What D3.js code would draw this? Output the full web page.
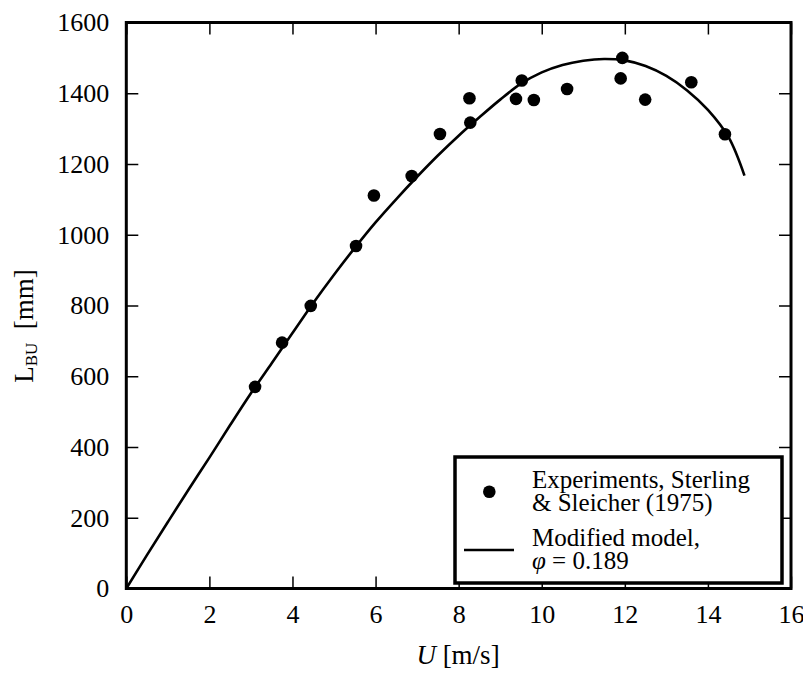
<!DOCTYPE html>
<html>
<head>
    <meta charset="utf-8">
    <script src="https://cdn.jsdelivr.net/npm/d3@7"></script>
</head>
<body style="margin:0">
    <script>
        // experiments, Sterling & Sleicher (1975)
        var expU = [3.10, 3.75, 4.44, 5.53, 5.96, 6.87, 7.55, 8.26, 8.28, 9.38, 9.52, 9.81, 10.61, 11.90, 11.94, 12.49, 13.60, 14.41];
        var expL = [570, 695, 799, 968, 1111, 1166, 1285, 1386, 1317, 1384, 1436, 1381, 1412, 1442, 1500, 1382, 1431, 1284];

        // modified model curve
        var modelU = [0, 0.5, 1, 1.5, 2, 2.5, 3, 3.5, 4, 4.5, 5, 5.5, 6, 6.5, 7, 7.5, 8, 8.5, 9, 9.5, 10, 10.5, 11, 11.5, 12, 12.5, 13, 13.5, 14, 14.5, 14.88];
        var modelL = [0, 95, 188, 280, 370, 462, 552, 637, 722, 807, 887, 963, 1035, 1101, 1164, 1224, 1280, 1332, 1382, 1427, 1459, 1480, 1492, 1497, 1493, 1477, 1449, 1408, 1353, 1275, 1167];

        var xTicks = [0, 2, 4, 6, 8, 10, 12, 14, 16];
        var yTicks = [0, 200, 400, 600, 800, 1000, 1200, 1400, 1600];

        var width = 803, height = 673;
        var margin = { left: 126.3, right: 12, top: 22.5, bottom: 84.5 };
        var font = "'Liberation Serif'";
        var fs = "26px";

        var svg = d3.select("body").append("svg")
            .attr("width", width)
            .attr("height", height)
            .style("font-family", font);

        var x = d3.scaleLinear().domain([0, 16]).range([margin.left, width - margin.right]);
        var y = d3.scaleLinear().domain([0, 1600]).range([height - margin.bottom, margin.top]);

        // axes, ticks pointing inward on all four sides
        var gx = svg.append("g")
            .attr("transform", "translate(0," + y(0) + ")")
            .call(d3.axisBottom(x).tickValues(xTicks).tickSize(-12).tickPadding(16).tickFormat(d3.format("d")));
        var gxt = svg.append("g")
            .attr("transform", "translate(0," + y(1600) + ")")
            .call(d3.axisTop(x).tickValues(xTicks).tickSize(-12).tickFormat(""));
        var gy = svg.append("g")
            .attr("transform", "translate(" + x(0) + ",0)")
            .call(d3.axisLeft(y).tickValues(yTicks).tickSize(-12).tickPadding(17).tickFormat(d3.format("d")));
        var gyr = svg.append("g")
            .attr("transform", "translate(" + x(16) + ",0)")
            .call(d3.axisRight(y).tickValues(yTicks).tickSize(-12).tickFormat(""));

        [gx, gxt, gy, gyr].forEach(function (g) {
            g.attr("font-family", null).attr("font-size", null);
            g.select(".domain").remove();
            g.selectAll(".tick line").attr("stroke", "#000").attr("stroke-width", 1.5);
            g.selectAll(".tick text")
                .style("font-family", font)
                .style("font-size", fs)
                .attr("fill", "#000");
        });

        // model line
        var line = d3.line()
            .x(function (d, i) { return x(modelU[i]); })
            .y(function (d, i) { return y(modelL[i]); })
            .curve(d3.curveCatmullRom);

        svg.append("path")
            .datum(modelU)
            .attr("d", line)
            .attr("fill", "none")
            .attr("stroke", "#000")
            .attr("stroke-width", 2.6);

        // experiments
        svg.selectAll(".dot")
            .data(expU)
            .enter().append("circle")
            .attr("class", "dot")
            .attr("cx", function (d) { return x(d); })
            .attr("cy", function (d, i) { return y(expL[i]); })
            .attr("r", 6.3)
            .attr("fill", "#000");

        // frame
        svg.append("rect")
            .attr("x", x(0))
            .attr("y", y(1600))
            .attr("width", x(16) - x(0))
            .attr("height", y(0) - y(1600))
            .attr("fill", "none")
            .attr("stroke", "#000")
            .attr("stroke-width", 3);

        // legend
        var lg = svg.append("g");
        lg.append("rect")
            .attr("x", 455).attr("y", 457)
            .attr("width", 327).attr("height", 126)
            .attr("fill", "#fff")
            .attr("stroke", "#000")
            .attr("stroke-width", 3.5);
        lg.append("circle").attr("cx", 489.3).attr("cy", 491.7).attr("r", 6.3).attr("fill", "#000");
        lg.append("line")
            .attr("x1", 464).attr("x2", 514)
            .attr("y1", 550).attr("y2", 550)
            .attr("stroke", "#000").attr("stroke-width", 2.6);

        var legendLines = [
            { t: "Experiments, Sterling", y: 488 },
            { t: "& Sleicher (1975)", y: 511 },
            { t: "Modified model,", y: 546 }
        ];
        legendLines.forEach(function (l) {
            lg.append("text").attr("x", 532).attr("y", l.y)
                .style("font-family", font).style("font-size", "25px")
                .text(l.t);
        });
        var phi = lg.append("text").attr("x", 532).attr("y", 569)
            .style("font-family", font).style("font-size", "25px");
        phi.append("tspan").style("font-style", "italic").text("φ");
        phi.append("tspan").text(" = 0.189");

        // axis labels
        var xl = svg.append("text")
            .attr("x", 458)
            .attr("y", 664)
            .attr("text-anchor", "middle")
            .style("font-family", font)
            .style("font-size", "27px");
        xl.append("tspan").style("font-style", "italic").text("U");
        xl.append("tspan").text(" [m/s]");

        var yl = svg.append("text")
            .attr("transform", "translate(33,326) rotate(-90)")
            .attr("text-anchor", "middle")
            .style("font-family", font)
            .style("font-size", "27px");
        yl.append("tspan").text("L");
        yl.append("tspan").style("font-size", "17px").attr("dy", 4).text("BU");
        yl.append("tspan").attr("dy", -4).text("\u00a0\u00a0[mm]");
    </script>
</body>
</html>
